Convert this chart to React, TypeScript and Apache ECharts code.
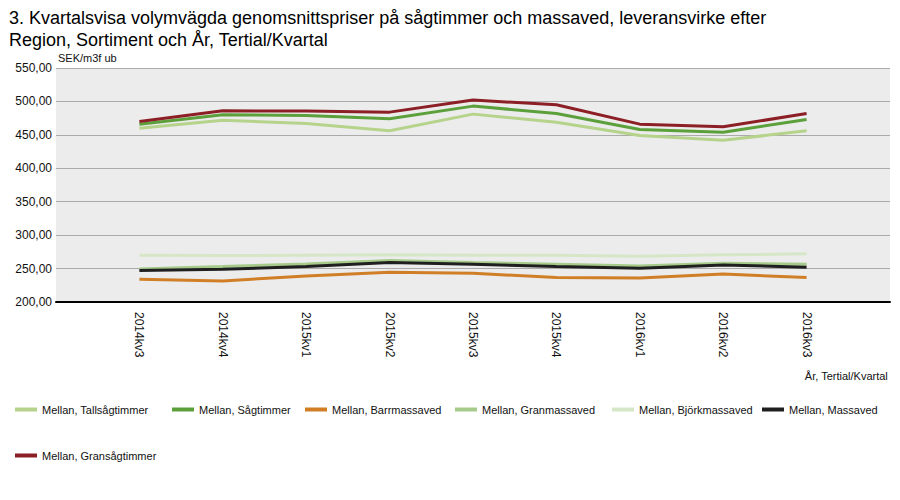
import React, { useEffect, useRef } from "react";
import * as echarts from "echarts";

const quarters = ["2014kv3", "2014kv4", "2015kv1", "2015kv2", "2015kv3", "2015kv4", "2016kv1", "2016kv2", "2016kv3"];

const seriesNames = [
  "Mellan, Tallsågtimmer",
  "Mellan, Sågtimmer",
  "Mellan, Barrmassaved",
  "Mellan, Granmassaved",
  "Mellan, Björkmassaved",
  "Mellan, Massaved",
  "Mellan, Gransågtimmer",
];

const tallsagtimmer = [460, 472, 467, 456, 481, 469, 449, 442, 456];
const sagtimmer = [466, 480, 479, 474, 493, 482, 458, 454, 473];
const barrmassaved = [234, 231.5, 239, 244.5, 243, 236.5, 236, 242, 236.5];
const granmassaved = [249.5, 253, 257, 262, 259, 256.5, 254, 258, 256.5];
const bjorkmassaved = [270, 269.5, 270, 270.5, 270, 270, 268.5, 270.5, 272];
const massaved = [247, 249, 253, 259, 256.5, 253, 250.5, 255.5, 252];
const gransagtimmer = [470, 486, 485.5, 484, 502, 495, 466, 462, 482];

const values = [tallsagtimmer, sagtimmer, barrmassaved, granmassaved, bjorkmassaved, massaved, gransagtimmer];
const colors = ["#b6d38c", "#5ca03b", "#d17f27", "#a5ca8a", "#d6e7c8", "#1f1f1f", "#8c1f25"];

const yTicks = { min: 200, max: 550, interval: 50 };

const FONT = "'Liberation Sans', Arial, sans-serif";

const legendSpots = [
  [15, 404], [172, 404], [305, 404], [455, 404], [612, 404], [762, 404], [15, 450],
];

export default function App() {
  const ref = useRef<HTMLDivElement>(null);

  useEffect(() => {
    if (!ref.current) return;
    const chart = echarts.init(ref.current, undefined, { renderer: "svg" });
    const cats = ["", ...quarters, ""];
    const series = seriesNames.map((name, i) => ({
      name,
      type: "line",
      data: [null, ...values[i], null],
      symbol: "none",
      smooth: false,
      connectNulls: false,
      lineStyle: { color: colors[i], width: 3 },
      itemStyle: { color: colors[i] },
      z: 2 + (i === 5 ? 1 : 0),
    }));
    const legends = seriesNames.map((name, i) => ({
      data: [name],
      left: legendSpots[i][0],
      top: legendSpots[i][1],
      orient: "horizontal",
      icon: "rect",
      itemWidth: 22,
      itemHeight: 4,
      padding: 0,
      textStyle: { fontFamily: FONT, fontSize: 11, color: "#111" },
    }));
    chart.setOption({
      animation: false,
      textStyle: { fontFamily: FONT },
      title: {
        text: "3. Kvartalsvisa volymvägda genomsnittspriser på sågtimmer och massaved, leveransvirke efter\nRegion, Sortiment och År, Tertial/Kvartal",
        left: 4,
        top: 2,
        textStyle: { fontFamily: FONT, fontSize: 18, fontWeight: "normal", color: "#000", lineHeight: 22 },
      },
      legend: legends,
      grid: {
        left: 56,
        right: 10,
        top: 68,
        bottom: 198,
        show: true,
        backgroundColor: "#ececec",
        borderWidth: 0,
      },
      xAxis: {
        type: "category",
        data: cats,
        boundaryGap: false,
        axisLine: { show: true, lineStyle: { color: "#000", width: 2 } },
        axisTick: { show: false },
        splitLine: { show: false },
        axisLabel: {
          interval: 0,
          rotate: -90,
          margin: 10,
          fontSize: 12,
          color: "#111",
          fontFamily: FONT,
        },
      },
      yAxis: {
        type: "value",
        min: yTicks.min,
        max: yTicks.max,
        interval: yTicks.interval,
        axisLine: { show: false },
        axisTick: { show: false },
        splitLine: { show: true, lineStyle: { color: "#aaaaaa", width: 1 } },
        axisLabel: {
          fontSize: 12,
          color: "#111",
          margin: 4,
          fontFamily: FONT,
          formatter: (v: number) => v.toFixed(2).replace(".", ","),
        },
      },
      graphic: [
        {
          type: "text",
          left: 58,
          top: 52,
          style: { text: "SEK/m3f ub", fontSize: 11, fill: "#111", fontFamily: FONT },
        },
        {
          type: "text",
          right: 12,
          top: 370,
          style: { text: "År, Tertial/Kvartal", fontSize: 11, fill: "#111", fontFamily: FONT },
        },
      ],
      series,
    });
    return () => chart.dispose();
  }, []);

  return (
    <div
      ref={ref}
      style={{ position: "fixed", left: 0, top: 0, width: 900, height: 500, background: "#fff" }}
    />
  );
}
